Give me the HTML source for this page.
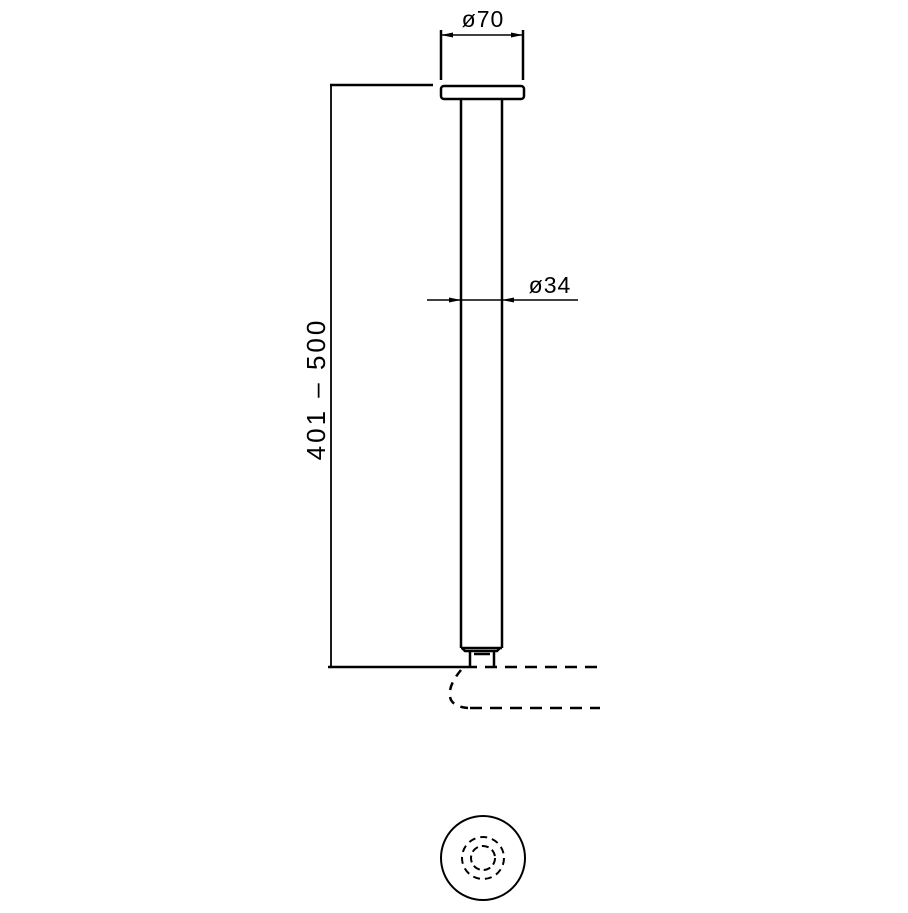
<!DOCTYPE html><html><head><style>body{margin:0;background:#fff}</style></head><body>
<svg width="908" height="908" xmlns="http://www.w3.org/2000/svg" font-family="Liberation Sans, sans-serif">
<g stroke="#000" stroke-width="2.5" fill="none">
<line x1="441" y1="30" x2="441" y2="80"/><line x1="523" y1="30" x2="523" y2="80"/>
<line x1="441" y1="35" x2="523" y2="35" stroke-width="1.5"/>
<rect x="441" y="86" width="83" height="13" rx="3"/>
<line x1="461" y1="99" x2="461" y2="648"/><line x1="502" y1="99" x2="502" y2="648"/>
<line x1="461" y1="648" x2="502" y2="648"/>
<path d="M462 648 L465 651 L497 651 L500 648 M470 651 V667 M494 651 V667 M474 654 H490"/>
<line x1="330" y1="85" x2="433" y2="85"/>
<line x1="331" y1="85" x2="331" y2="667" stroke-width="1.8"/>
<line x1="328" y1="667" x2="465" y2="667"/>
<line x1="465" y1="667" x2="600" y2="667" stroke-dasharray="12,8"/>
<line x1="470" y1="708" x2="600" y2="708" stroke-dasharray="12,8"/>
<path d="M461 670 Q446 688 451 700 Q455 707 468 708" stroke-dasharray="8,7"/>
<line x1="427" y1="300" x2="578" y2="300" stroke-width="1.5"/>
<circle cx="483" cy="858" r="42" stroke-width="2"/>
<circle cx="483" cy="858" r="21" stroke-width="2" stroke-dasharray="7,5"/>
<circle cx="483" cy="858" r="12" stroke-width="2" stroke-dasharray="7,4"/>
</g>
<g fill="#000">
<path d="M441 35 l12 -2.5 v5z M523 35 l-12 -2.5 v5z"/>
<path d="M461 300 l-12 -2.5 v5z M502 300 l12 -2.5 v5z"/>
</g>
<text x="483" y="27" font-size="23" text-anchor="middle" letter-spacing="1">ø70</text>
<text x="550" y="293" font-size="23" text-anchor="middle" letter-spacing="1">ø34</text>
<text transform="translate(325,389) rotate(-90)" font-size="26" text-anchor="middle" letter-spacing="3">401 – 500</text>
</svg></body></html>
